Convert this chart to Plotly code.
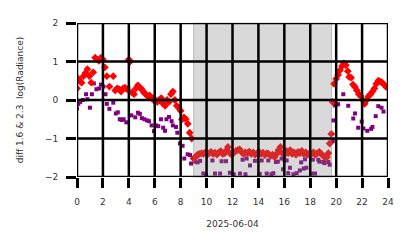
import plotly.graph_objects as go

# ---- data ----
red_t = [0.0, 0.1, 0.2, 0.35, 0.5, 0.65, 0.8, 0.95, 1.1, 1.25, 1.4, 1.55, 1.7, 1.85, 2.0, 2.15,
         2.3, 2.5, 2.8, 2.95, 3.1, 3.25, 3.4, 3.55, 3.7, 3.85, 4.0, 4.1, 4.25, 4.4, 4.55, 4.7,
         4.85, 5.0, 5.15, 5.3, 5.45, 5.6, 5.75, 5.9, 6.05, 6.2, 6.35, 6.5, 6.65, 6.8, 6.95, 7.1,
         7.25, 7.4, 7.55, 7.7, 7.85, 8.0, 8.1, 8.25, 8.4, 8.55, 8.7, 8.85, 9.0, 9.15, 9.3, 9.45,
         9.6, 9.75, 9.9, 10.05, 10.2, 10.35, 10.5, 10.65, 10.8, 10.95, 11.1, 11.25, 11.4, 11.55,
         11.65, 11.8, 11.95, 12.1, 12.25, 12.4, 12.55, 12.7, 12.85, 13.0, 13.15, 13.3, 13.45,
         13.6, 13.75, 13.9, 14.05, 14.2, 14.35, 14.5, 14.65, 14.8, 14.95, 15.1, 15.25, 15.4,
         15.55, 15.7, 15.85, 16.0, 16.15, 16.3, 16.45, 16.6, 16.75, 16.9, 17.05, 17.2, 17.35,
         17.5, 17.65, 17.8, 17.95, 18.1, 18.25, 18.4, 18.55, 18.7, 18.85, 19.0, 19.15, 19.3,
         19.4, 19.5, 19.62, 19.72, 19.83, 20.0, 20.15, 20.3, 20.45, 20.6, 20.75, 20.9, 21.0,
         21.15, 21.3, 21.45, 21.6, 21.75, 21.9, 22.05, 22.2, 22.35, 22.5, 22.65, 22.8, 22.95,
         23.1, 23.25, 23.4, 23.55, 23.7, 23.85]
red_v = [0.30, 0.55, 0.50, 0.45, 0.62, 0.70, 0.80, 0.62, 0.45, 0.72, 1.10, 1.05, 1.02, 1.10, 1.05, 0.85,
         0.62, 0.35, 0.62, 0.25, 0.30, 0.28, 0.22, 0.30, 0.32, 0.28, 1.05, 1.00, 0.20, 0.15, 0.30, 0.38,
         0.32, 0.28, 0.20, 0.15, 0.10, 0.12, 0.05, 0.05, -0.05, -0.05, 0.00, 0.05, -0.10, -0.15, 0.00, -0.05,
         0.15, 0.22, 0.00, -0.15, -0.20, -0.28, -0.50, -0.45, -0.50, -0.62, -0.85, -1.00, -1.52, -1.48, -1.42, -1.40,
         -1.38, -1.40, -1.36, -1.42, -1.38, -1.35, -1.40, -1.37, -1.42, -1.36, -1.33, -1.40, -1.38, -1.30,
         -1.22, -1.38, -1.42, -1.36, -1.33, -1.30, -1.28, -1.35, -1.40, -1.36, -1.38, -1.34, -1.40,
         -1.36, -1.42, -1.38, -1.35, -1.40, -1.37, -1.43, -1.38, -1.40, -1.45, -1.42, -1.48, -1.40,
         -1.30, -1.22, -1.38, -1.42, -1.32, -1.38, -1.30, -1.40, -1.36, -1.42, -1.35, -1.38, -1.32,
         -1.40, -1.36, -1.42, -1.38, -1.40, -1.36, -1.42, -1.38, -1.35, -1.40, -1.45, -1.50, -1.48,
         -1.38, -1.13, -0.88, -0.05, 0.42, 0.55, 0.65, 0.77, 0.88, 0.95, 0.90, 0.75, 0.60,
         0.58, 0.40, 0.34, 0.25, 0.15, 0.10, 0.00, -0.10, 0.00, 0.10, 0.15, 0.22, 0.30,
         0.42, 0.50, 0.48, 0.45, 0.40, 0.34]

purple_t = [0.0, 0.1, 0.25, 0.45, 0.7, 0.8, 1.0, 1.15, 1.3, 1.5, 1.7, 1.85, 2.05, 2.2, 2.3, 2.5,
            2.8, 3.0, 3.15, 3.3, 3.45, 3.6, 3.8, 3.96, 4.2, 4.5, 4.7, 4.85, 5.0, 5.2, 5.4, 5.55,
            5.76, 5.94, 6.1, 6.27, 6.48, 6.65, 6.79, 6.9, 7.1, 7.3, 7.4, 7.64, 7.74, 7.95, 8.15,
            8.28, 8.54, 8.72, 8.8, 9.1, 9.3, 9.5, 9.75, 9.95, 10.45, 10.65, 11.04, 11.16, 11.5,
            11.8, 12.1, 12.58, 12.78, 13.0, 13.09, 13.35, 13.73, 14.1, 14.25, 14.64, 14.76, 15.0,
            15.15, 15.35, 15.5, 15.79, 15.9, 16.0, 16.18, 16.3, 16.43, 16.7, 16.95, 17.2, 17.3,
            17.5, 17.59, 17.7, 18.1, 18.2, 18.37, 18.62, 18.7, 19.0, 19.1, 19.39, 19.5, 19.73,
            19.78, 19.9, 20.0, 20.15, 20.55, 20.93, 21.32, 21.45, 21.7, 21.97, 22.1, 22.4, 22.7,
            22.8, 23.05, 23.25, 23.5, 23.65]
purple_v = [-0.22, -0.10, -0.05, 0.00, 0.15, 0.02, -0.20, 0.15, 0.43, 0.28, 0.30, 0.40, 0.35, 0.15, -0.10, -0.23,
            -0.07, -0.35, -0.32, -0.50, -0.52, -0.50, -0.58, 0.32, -0.40, -0.45, -0.33, -0.36, -0.47, -0.50, -0.53, -0.55,
            -0.66, -0.81, -0.66, -0.68, -0.50, -0.72, -0.80, -0.50, -0.44, -0.55, -0.66, -0.70, -0.85, -1.13, -1.19,
            -1.52, -1.41, -1.43, -1.65, -1.60, -1.62, -1.58, -1.91, -1.95, -1.57, -1.91, -1.91, -1.59, -1.59,
            -1.89, -1.93, -1.91, -1.55, -1.93, -1.52, -1.70, -1.58, -1.92, -1.57, -1.91, -1.57, -1.93,
            -1.90, -1.61, -1.60, -1.52, -1.80, -1.55, -1.57, -1.90, -1.76, -1.93, -1.90, -1.83, -1.62,
            -1.78, -1.54, -1.76, -1.91, -1.55, -1.91, -1.55, -1.60, -1.61, -1.64, -1.61, -1.68, -1.07,
            -0.53, -0.14, -0.12, -0.11, 0.15, -0.15, -0.48, -0.35, -0.72, -0.56, -0.74, -0.80, -0.75,
            -0.70, -0.42, -0.16, -0.20, -0.30]

x_ticks = [0, 2, 4, 6, 8, 10, 12, 14, 16, 18, 20, 22, 24]
y_ticks = [-2, -1, 0, 1, 2]
y_tick_text = ["\u22122", "\u22121", "0", "1", "2"]
night_span = [9.0, 19.65]

FONT = "DejaVu Sans"
INK = "#333333"

fig = go.Figure()
fig.add_trace(go.Scatter(x=purple_t, y=purple_v, mode="markers",
                         marker=dict(symbol="square", size=4, color="#800080", line=dict(width=0)),
                         showlegend=False))
fig.add_trace(go.Scatter(x=red_t, y=red_v, mode="markers",
                         marker=dict(symbol="diamond", size=6, color="#ff0000", line=dict(width=0)),
                         showlegend=False))

shapes = [dict(type="rect", xref="x", yref="paper", x0=night_span[0], x1=night_span[1], y0=0, y1=1,
               fillcolor="rgba(128,128,128,0.3)", line=dict(color="rgba(128,128,128,0.45)", width=1),
               layer="above")]
for xv in x_ticks:
    shapes.append(dict(type="line", xref="x", yref="paper", x0=xv, x1=xv, y0=0, y1=1,
                       line=dict(color="black", width=2.5), layer="above"))
for yv in y_ticks:
    shapes.append(dict(type="line", xref="paper", yref="y", x0=0, x1=1, y0=yv, y1=yv,
                       line=dict(color="black", width=2.5), layer="above"))

fig.update_layout(
    width=414, height=248,
    margin=dict(l=77, r=26, t=23, b=71),
    paper_bgcolor="white", plot_bgcolor="white",
    font=dict(family=FONT, size=9, color=INK),
    shapes=shapes,
    xaxis=dict(range=[0, 24], tickvals=x_ticks, ticktext=[str(v) for v in x_ticks],
               showgrid=False, zeroline=False, showline=False,
               ticks="outside", ticklen=10, tickwidth=2.5, tickcolor="black",
               ticklabelstandoff=6,
               tickfont=dict(family=FONT, size=9, color=INK),
               title=dict(text="2025-06-04", font=dict(family=FONT, size=9, color=INK), standoff=14)),
    yaxis=dict(range=[-2, 2], tickvals=y_ticks, ticktext=y_tick_text,
               showgrid=False, zeroline=False, showline=False,
               ticks="outside", ticklen=10, tickwidth=2.5, tickcolor="black",
               ticklabelstandoff=6,
               tickfont=dict(family=FONT, size=9, color=INK),
               title=dict(text="diff 1.6 &amp; 2.3  log(Radiance)", font=dict(family=FONT, size=9, color=INK),
                          standoff=19)),
)

fig.write_html("out.html")
